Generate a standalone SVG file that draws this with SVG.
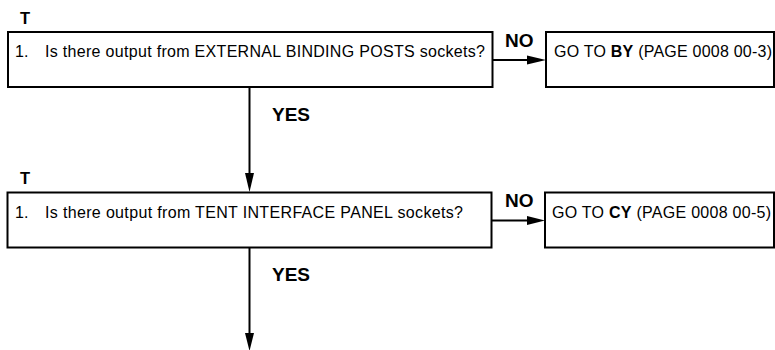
<svg xmlns="http://www.w3.org/2000/svg" width="775" height="350" viewBox="0 0 775 350">
  <style>
    .box { fill: #fff; stroke: #000; stroke-width: 2; }
    .txt { font-family: "Liberation Sans", Arial, sans-serif; font-size: 16px; fill: #000; }
    .lbl { font-family: "Liberation Sans", Arial, sans-serif; font-size: 19px; font-weight: bold; fill: #000; }
    .step { font-family: "Liberation Sans", Arial, sans-serif; font-size: 16.5px; font-weight: bold; fill: #000; }
    .line { stroke: #000; stroke-width: 2; fill: none; }
    .head { fill: #000; }
  </style>
  <rect width="775" height="350" fill="#fff"/>

  <!-- step markers -->
  <text class="step" x="20" y="23.5">T</text>
  <text class="step" x="20" y="183.5">T</text>

  <!-- connectors -->
  <g id="connectors">
    <line class="line" x1="249.5" y1="87" x2="249.5" y2="176"/>
    <polygon class="head" points="245,173 254,173 249.5,192"/>
    <line class="line" x1="492" y1="60" x2="530" y2="60"/>
    <polygon class="head" points="527,55.5 527,64.5 546,60"/>
    <line class="line" x1="492" y1="220.5" x2="530" y2="220.5"/>
    <polygon class="head" points="527,216 527,225 545,220.5"/>
    <line class="line" x1="249.5" y1="248" x2="249.5" y2="336"/>
    <polygon class="head" points="245,333 254,333 249.5,351"/>
    <text class="lbl" x="272" y="121">YES</text>
    <text class="lbl" x="505" y="47">NO</text>
    <text class="lbl" x="272" y="281">YES</text>
    <text class="lbl" x="505" y="207">NO</text>
  </g>

  <g id="q1">
    <rect class="box" x="8" y="32" width="484.5" height="55"/>
    <text class="txt" x="15" y="56.5">1.</text>
    <text class="txt" x="45" y="56.5" textLength="440" lengthAdjust="spacing">Is there output from EXTERNAL BINDING POSTS sockets?</text>
  </g>

  <g id="goto-by">
    <rect class="box" x="546" y="32" width="228" height="55"/>
    <text class="txt" x="554" y="57" textLength="218" lengthAdjust="spacing">GO TO <tspan font-weight="bold">BY</tspan> (PAGE 0008 00-3)</text>
  </g>

  <g id="q2">
    <rect class="box" x="7.5" y="192.5" width="484" height="55"/>
    <text class="txt" x="15" y="217.5">1.</text>
    <text class="txt" x="45" y="217.5" textLength="418" lengthAdjust="spacing">Is there output from TENT INTERFACE PANEL sockets?</text>
  </g>

  <g id="goto-cy">
    <rect class="box" x="545" y="192.5" width="229" height="55"/>
    <text class="txt" x="552" y="218" textLength="219" lengthAdjust="spacing">GO TO <tspan font-weight="bold">CY</tspan> (PAGE 0008 00-5)</text>
  </g>
</svg>
